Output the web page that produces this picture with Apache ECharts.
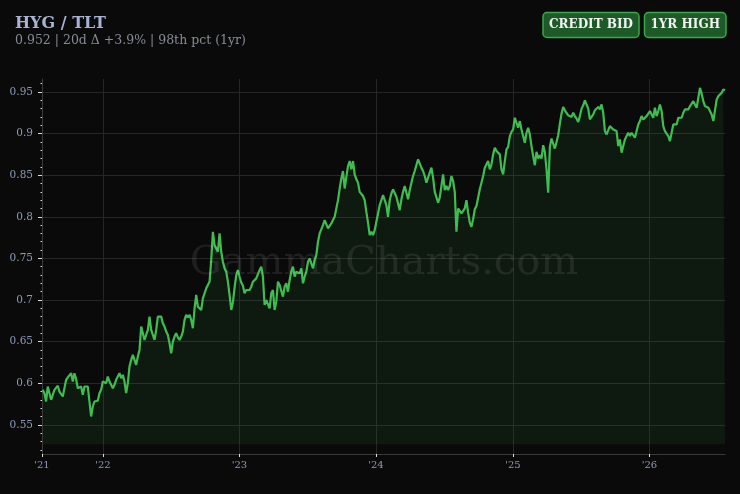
<!DOCTYPE html>
<html><head><meta charset="utf-8">
<script src="https://cdn.jsdelivr.net/npm/echarts@6/dist/echarts.min.js"></script>
<style>html,body{margin:0;padding:0;background:#0a0a0a}#c{width:740px;height:494px}</style>
</head><body><div id="c"></div><script>
const titleText = 'HYG / TLT';
const subtitleText = '0.952 | 20d Δ +3.9% | 98th pct (1yr)';
const badgeLabels = ['CREDIT BID', '1YR HIGH'];
const watermarkText = 'GammaCharts.com';

const axisStartDate = '2021-07-22';
const firstPointDate = '2021-07-24';
const pointStepDays = 4.46;
const xTickDates = ['2021-07-22', '2022-01-01', '2023-01-01', '2024-01-01', '2025-01-01', '2026-01-01'];

const yTicks = [0.55, 0.6, 0.65, 0.7, 0.75, 0.8, 0.85, 0.9, 0.95];
const yMinorTicks = [0.52, 0.53, 0.54, 0.55, 0.56, 0.57, 0.58, 0.59, 0.6, 0.61, 0.62, 0.63, 0.64, 0.65, 0.66, 0.67, 0.68, 0.69, 0.7, 0.71, 0.72, 0.73, 0.74, 0.75, 0.76, 0.77, 0.78, 0.79, 0.8, 0.81, 0.82, 0.83, 0.84, 0.85, 0.86, 0.87, 0.88, 0.89, 0.9, 0.91, 0.92, 0.93, 0.94, 0.95, 0.96];
const yMin = 0.5149;
const yMax = 0.9656;
const areaBaseValue = 0.5265;

// HYG/TLT ratio (~4.5 day spacing)
const ratioValues = [
0.592,0.588,0.578,0.596,0.596,0.580,0.586,0.592,0.594,0.597,
0.590,0.588,0.584,0.582,0.604,0.607,0.609,0.612,0.602,0.612,
0.605,0.594,0.592,0.596,0.586,0.596,0.596,0.596,0.578,0.560,
0.572,0.578,0.577,0.579,0.588,0.592,0.602,0.604,0.600,0.608,
0.602,0.598,0.594,0.598,0.604,0.606,0.612,0.606,0.610,0.602,
0.588,0.600,0.620,0.628,0.634,0.632,0.622,0.632,0.640,0.668,
0.670,0.652,0.658,0.664,0.680,0.664,0.666,0.652,0.664,0.680,
0.680,
0.680,0.672,0.668,0.662,0.658,0.648,0.636,0.650,0.656,0.660,
0.655,0.652,0.656,0.662,0.676,0.682,0.679,0.682,0.676,0.666,
0.690,0.706,0.692,0.694,0.688,0.702,0.702,0.714,0.718,0.722,
0.748,0.782,0.766,0.764,0.758,0.780,0.758,0.746,0.738,0.734,
0.722,0.706,0.688,0.697,0.715,0.730,0.736,0.728,0.721,0.717,
0.708,0.712,0.711,0.712,0.716,0.722,0.723,0.726,0.731,0.736,
0.740,0.728,0.694,0.700,0.702,0.690,0.708,0.712,0.688,
0.698,0.722,0.718,0.720,0.704,0.716,0.720,0.710,0.724,0.734,
0.740,0.728,0.734,0.736,0.732,0.738,0.720,0.728,0.734,0.746,
0.750,0.744,0.738,0.748,0.754,0.770,0.780,0.782,0.790,0.796,
0.798,0.786,0.784,0.792,0.796,0.800,0.802,0.820,0.834,0.846,
0.855,0.834,0.848,0.861,0.867,0.857,0.867,0.851,0.845,0.841,
0.830,0.832,0.825,0.820,0.806,0.793,0.778,0.782,0.778,0.784,
0.794,0.804,0.814,0.820,0.826,0.828,0.814,0.800,0.820,
0.828,0.833,0.831,0.824,0.816,0.808,0.821,0.830,0.837,0.829,
0.821,0.832,0.841,0.849,0.855,0.857,0.869,0.867,0.859,0.855,
0.849,0.841,0.847,0.845,0.859,0.847,0.830,0.829,0.817,0.823,
0.825,0.851,0.832,0.837,0.832,0.837,0.849,0.843,0.830,0.782,
0.810,0.808,0.804,0.806,0.810,0.820,0.805,0.793,0.788,0.797,
0.809,0.813,0.813,0.833,0.841,0.849,0.859,0.861,0.867,0.857,
0.863,0.875,0.883,0.879,0.881,0.875,0.857,0.851,0.867,
0.881,0.884,0.897,0.902,0.905,0.919,0.917,0.907,0.915,0.905,
0.903,0.889,0.901,0.907,0.899,0.885,0.873,0.862,0.878,0.870,
0.874,0.870,0.886,0.878,0.857,0.829,0.884,0.894,0.894,0.882,
0.890,0.898,0.912,0.924,0.932,0.928,0.926,0.922,0.924,0.920,
0.925,0.921,0.918,0.914,0.921,0.930,0.934,0.940,0.938,0.930,
0.917,0.918,0.923,0.928,0.930,0.932,0.929,0.935,0.925,0.903,
0.899,0.897,0.909,0.911,0.905,0.907,0.903,0.885,0.893,
0.877,0.885,0.893,0.897,0.901,0.897,0.901,0.899,0.895,0.895,
0.911,0.915,0.921,0.917,0.919,0.921,0.923,0.927,0.923,0.919,
0.931,0.921,0.927,0.935,0.927,0.909,0.903,0.901,0.897,0.891,
0.901,0.911,0.913,0.911,0.919,0.921,0.919,0.925,0.929,0.927,
0.929,0.933,0.933,0.939,0.935,0.931,0.943,0.955,0.948,0.939,
0.933,0.935,0.931,0.929,0.923,0.915,0.913,0.941,0.945,0.943,
0.949,0.953,0.952
];

function ts(s) { const p = s.split('-').map(Number); return Date.UTC(p[0], p[1] - 1, p[2]); }
const DAY = 86400000;
const t0 = ts(firstPointDate);
const seriesData = ratioValues.map((v, i) => [t0 + i * pointStepDays * DAY, v]);
const xMin = ts(axisStartDate);
const xMax = seriesData[seriesData.length - 1][0];
const xTicks = xTickDates.map(ts);

const FONT = '"DejaVu Serif", serif';
const green = '#3fbd50';

const chart = echarts.init(document.getElementById('c'), null, { renderer: 'canvas' });
chart.setOption({
  backgroundColor: '#0a0a0a',
  animation: false,
  grid: { left: 42, right: 15, top: 79, bottom: 40, containLabel: false, outerBoundsMode: 'none' },
  xAxis: {
    type: 'value', min: xMin, max: xMax,
    axisLine: { show: true, lineStyle: { color: '#3a3a3a', width: 1 } },
    axisTick: { show: true, length: 3, lineStyle: { color: '#dddddd' }, customValues: xTicks },
    axisLabel: {
      customValues: xTicks, margin: 6, color: '#8e99b6', fontFamily: FONT, fontSize: 10,
      formatter: v => "'" + String(new Date(v).getUTCFullYear()).slice(2)
    },
    splitLine: { show: true, lineStyle: { color: '#262626', width: 1 } }
  },
  yAxis: [{
    type: 'value', min: yMin, max: yMax, position: 'left',
    axisLine: { show: true, lineStyle: { color: '#3a3a3a', width: 1 } },
    axisTick: { show: true, length: 4, lineStyle: { color: '#dddddd' }, customValues: yTicks },
    axisLabel: {
      customValues: yTicks, margin: 9, color: '#8e99b6', fontFamily: FONT, fontSize: 10.5,
      formatter: v => String(+(+v).toFixed(2))
    },
    splitLine: { show: true, lineStyle: { color: '#262626', width: 1 } }
  }, {
    type: 'value', min: yMin, max: yMax, position: 'left', offset: 0,
    axisLine: { show: false },
    axisTick: { show: true, length: 1.5, lineStyle: { color: '#dddddd' }, customValues: yMinorTicks },
    axisLabel: { show: false },
    splitLine: { show: false }
  }],
  series: [{
    type: 'line', data: seriesData, showSymbol: false, symbol: 'none', yAxisIndex: 0,
    lineStyle: { color: green, width: 2.2 },
    itemStyle: { color: green },
    areaStyle: { color: 'rgba(63,185,80,0.12)', origin: areaBaseValue },
    z: 2
  }],
  graphic: [
    { type: 'text', x: 15, y: 24, z: 10, style: { text: titleText, fill: '#a8b2d1', font: 'bold 16px ' + FONT, align: 'left', verticalAlign: 'middle', textAlign: 'left', textVerticalAlign: 'middle' } },
    { type: 'text', x: 15, y: 41, z: 10, style: { text: subtitleText, fill: '#868b95', font: '12.5px ' + FONT, align: 'left', verticalAlign: 'middle', textAlign: 'left', textVerticalAlign: 'middle' } },
    { type: 'rect', x: 543, y: 12.5, z: 10, shape: { x: 0, y: 0, width: 96, height: 25, r: 4 }, style: { fill: '#1e5a28', stroke: '#3aa84a', lineWidth: 1.5 } },
    { type: 'text', x: 591, y: 25, z: 11, style: { text: badgeLabels[0], fill: '#f2f2f2', font: 'bold 12px ' + FONT, align: 'center', verticalAlign: 'middle', textAlign: 'center', textVerticalAlign: 'middle' } },
    { type: 'rect', x: 644.5, y: 12.5, z: 10, shape: { x: 0, y: 0, width: 81.5, height: 25, r: 4 }, style: { fill: '#1e5a28', stroke: '#3aa84a', lineWidth: 1.5 } },
    { type: 'text', x: 685.25, y: 25, z: 11, style: { text: badgeLabels[1], fill: '#f2f2f2', font: 'bold 12px ' + FONT, align: 'center', verticalAlign: 'middle', textAlign: 'center', textVerticalAlign: 'middle' } },
    { type: 'text', x: 384, y: 264, z: 100, silent: true, style: { text: watermarkText, fill: 'rgba(255,255,255,0.085)', font: '40px ' + FONT, align: 'center', verticalAlign: 'middle', textAlign: 'center', textVerticalAlign: 'middle' } }
  ]
});
</script></body></html>
